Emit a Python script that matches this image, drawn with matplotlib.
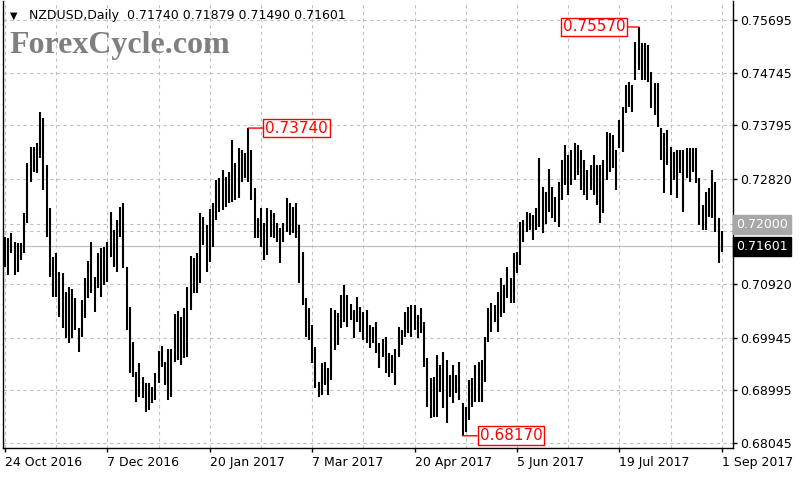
import matplotlib
matplotlib.use('Agg')
import matplotlib.pyplot as plt

symbol = 'NZDUSD,Daily'
last_ohlc = [0.71740, 0.71879, 0.71490, 0.71601]  # open, high, low, close of the last bar
level_line = 0.72000

date_labels = ['24 Oct 2016', '7 Dec 2016', '20 Jan 2017', '7 Mar 2017',
               '20 Apr 2017', '5 Jun 2017', '19 Jul 2017', '1 Sep 2017']
price_ticks = [0.68045, 0.68995, 0.69945, 0.70920, 0.71870,
               0.72820, 0.73795, 0.74745, 0.75695]
hidden_tick = 0.71870  # its label sits under the 0.72000 / 0.71601 boxes

# daily highs / lows (one value per bar)
highs = [
    0.7177, 0.7175, 0.7184, 0.7168, 0.7166, 0.7166, 0.7220, 0.7311, 0.7340, 0.7340,
    0.7347, 0.7403, 0.7392, 0.7307, 0.7229, 0.7141, 0.7148, 0.7114, 0.7112, 0.7077,
    0.7086, 0.7083, 0.7066, 0.7012, 0.7063, 0.7103, 0.7133, 0.7168, 0.7104, 0.7148,
    0.7157, 0.7159, 0.7168, 0.7222, 0.7190, 0.7208, 0.7231, 0.7238, 0.7122, 0.7050,
    0.6987, 0.6932, 0.6949, 0.6923, 0.6913, 0.6913, 0.6905, 0.6931, 0.6971, 0.6980,
    0.6951, 0.6974, 0.6974, 0.7038, 0.7043, 0.7032, 0.7048, 0.7086, 0.7142, 0.7139,
    0.7148, 0.7220, 0.7213, 0.7199, 0.7227, 0.7238, 0.7280, 0.7284, 0.7298, 0.7285,
    0.7295, 0.7352, 0.7311, 0.7338, 0.7334, 0.7329, 0.7374, 0.7334, 0.7266, 0.7211,
    0.7229, 0.7202, 0.7229, 0.7226, 0.7220, 0.7202, 0.7193, 0.7202, 0.7247, 0.7238,
    0.7231, 0.7238, 0.7199, 0.7150, 0.7066, 0.7048, 0.7018, 0.6978, 0.6914, 0.6949,
    0.6951, 0.6940, 0.7048, 0.7045, 0.7039, 0.7072, 0.7090, 0.7072, 0.7056, 0.7045,
    0.7068, 0.7050, 0.7041, 0.7045, 0.7018, 0.7014, 0.7023, 0.6985, 0.6992, 0.6996,
    0.6967, 0.6963, 0.6974, 0.7014, 0.7009, 0.7041, 0.7050, 0.7054, 0.7054, 0.7036,
    0.7048, 0.7023, 0.6958, 0.6922, 0.6923, 0.6963, 0.6945, 0.6969, 0.6954, 0.6927,
    0.6945, 0.6927, 0.6951, 0.6876, 0.6869, 0.6918, 0.6922, 0.6945, 0.6951, 0.6954,
    0.6996, 0.7048, 0.7057, 0.7054, 0.7077, 0.7103, 0.7090, 0.7122, 0.7103, 0.7148,
    0.7150, 0.7204, 0.7208, 0.7222, 0.7220, 0.7217, 0.7229, 0.7320, 0.7267, 0.7258,
    0.7300, 0.7267, 0.7249, 0.7276, 0.7316, 0.7343, 0.7325, 0.7334, 0.7347, 0.7343,
    0.7334, 0.7316, 0.7298, 0.7307, 0.7325, 0.7307, 0.7307, 0.7316, 0.7367, 0.7365,
    0.7361, 0.7334, 0.7389, 0.7412, 0.7452, 0.7457, 0.7452, 0.7530, 0.7557, 0.7528,
    0.7528, 0.7524, 0.7476, 0.7456, 0.7456, 0.7374, 0.7365, 0.7371, 0.7340, 0.7331,
    0.7334, 0.7334, 0.7334, 0.7338, 0.7338, 0.7338, 0.7338, 0.7284, 0.7235, 0.7258,
    0.7266, 0.7298, 0.7276, 0.7211, 0.71879,
]
lows = [
    0.7122, 0.7108, 0.7148, 0.7108, 0.7114, 0.7135, 0.7148, 0.7202, 0.7276, 0.7295,
    0.7293, 0.7320, 0.7262, 0.7177, 0.7104, 0.7068, 0.7068, 0.7032, 0.7012, 0.6994,
    0.6985, 0.6994, 0.7009, 0.6969, 0.6996, 0.7030, 0.7066, 0.7076, 0.7041, 0.7085,
    0.7068, 0.7090, 0.7095, 0.7141, 0.7122, 0.7114, 0.7177, 0.7121, 0.7009, 0.6931,
    0.6923, 0.6878, 0.6887, 0.6885, 0.6860, 0.6864, 0.6876, 0.6882, 0.6913, 0.6942,
    0.6909, 0.6882, 0.6887, 0.6951, 0.6954, 0.6945, 0.6958, 0.6960, 0.7045, 0.7076,
    0.7076, 0.7094, 0.7162, 0.7114, 0.7132, 0.7159, 0.7208, 0.7222, 0.7226, 0.7231,
    0.7238, 0.7240, 0.7244, 0.7247, 0.7276, 0.7284, 0.7276, 0.7244, 0.7175, 0.7175,
    0.7159, 0.7135, 0.7144, 0.7177, 0.7175, 0.7168, 0.7130, 0.7168, 0.7186, 0.7180,
    0.7184, 0.7175, 0.7094, 0.7054, 0.6996, 0.6990, 0.6949, 0.6904, 0.6887, 0.6891,
    0.6909, 0.6891, 0.6918, 0.6972, 0.6981, 0.7012, 0.7023, 0.7014, 0.7027, 0.6994,
    0.7023, 0.7005, 0.6990, 0.6985, 0.6976, 0.6985, 0.6967, 0.6940, 0.6960, 0.6931,
    0.6923, 0.6931, 0.6909, 0.6960, 0.6981, 0.6996, 0.7003, 0.6996, 0.7009, 0.6994,
    0.7003, 0.6942, 0.6869, 0.6849, 0.6851, 0.6851, 0.6896, 0.6867, 0.6840, 0.6887,
    0.6876, 0.6895, 0.6882, 0.6817, 0.6824, 0.6846, 0.6869, 0.6878, 0.6878, 0.6878,
    0.6914, 0.6987, 0.7005, 0.7023, 0.7005, 0.7032, 0.7039, 0.7066, 0.7057, 0.7057,
    0.7112, 0.7126, 0.7168, 0.7186, 0.7190, 0.7171, 0.7190, 0.7195, 0.7184, 0.7200,
    0.7222, 0.7211, 0.7204, 0.7195, 0.7244, 0.7271, 0.7253, 0.7271, 0.7280, 0.7289,
    0.7262, 0.7253, 0.7244, 0.7262, 0.7253, 0.7235, 0.7202, 0.7220, 0.7280, 0.7295,
    0.7302, 0.7262, 0.7338, 0.7331, 0.7401, 0.7412, 0.7403, 0.7461, 0.7479, 0.7461,
    0.7461, 0.7457, 0.7410, 0.7398, 0.7376, 0.7316, 0.7257, 0.7307, 0.7253, 0.7280,
    0.7247, 0.7293, 0.7222, 0.7284, 0.7276, 0.7295, 0.7275, 0.7199, 0.7190, 0.7190,
    0.7213, 0.7211, 0.7186, 0.7130, 0.71490,
]

# swing points marked with red boxes: value, window of bars to search, side of the box
swings = [(0.73740, 60, 100, 'right'), (0.75570, 180, 225, 'left'), (0.68170, 120, 160, 'right')]

n = len(highs)
x = list(range(n))
label_step = 32

fig = plt.figure(figsize=(8, 4.8), dpi=100)
fig.patch.set_facecolor('white')
ax = fig.add_axes([3 / 800, 1 - 448 / 480, 730 / 800, 447 / 480])
ax.set_facecolor('white')
ax.set_xlim(-0.6, 227.5)
ax.set_ylim(0.67949, 0.76040)

grid_kw = dict(color='#c0c0c0', linewidth=0.8, linestyle=(0, (3, 3)), zorder=1)
for p in price_ticks:
    ax.axhline(p, **grid_kw)
for gx in range(0, n + 1, label_step // 2):
    ax.axvline(gx, **grid_kw)
ax.axhline(level_line, **grid_kw)
ax.axhline(last_ohlc[3], color='#c0c0c0', linewidth=0.9, zorder=1)

ax.vlines(x, lows, highs, colors='black', linewidth=1.5, zorder=3)

# swing labels
for val, a, b, side in swings:
    if val in highs[a:b]:
        idx = a + highs[a:b].index(val)
    else:
        idx = a + lows[a:b].index(val)
    if side == 'left':
        off, ha = -13, 'right'
    else:
        off, ha = 17, 'left'
    ax.annotate('%.5f' % val, xy=(idx, val), xytext=(off, 0), textcoords='offset pixels',
                ha=ha, va='center', color='#ff0000', fontsize=11,
                bbox=dict(boxstyle='square,pad=0.12', fc='white', ec='#ff0000', lw=1.0),
                arrowprops=dict(arrowstyle='-', color='#ff0000', lw=1.0,
                                shrinkA=0, shrinkB=0, relpos=(0 if ha == 'left' else 1, 0.5)),
                zorder=5)

# axes / ticks
for s in ax.spines.values():
    s.set_color('black')
    s.set_linewidth(1.0)
ax.spines['top'].set_visible(False)
ax.yaxis.tick_right()
ax.set_yticks(price_ticks)
ax.set_yticklabels(['' if p == hidden_tick else '%.5f' % p for p in price_ticks])
ax.set_xticks(list(range(0, n, label_step)))
ax.set_xticklabels(date_labels, ha='left')
ax.tick_params(axis='both', direction='out', length=3, width=1, colors='black',
               labelsize=9, pad=2)
ax.tick_params(axis='x', pad=3)
for t in ax.get_xticklabels():
    t.set_horizontalalignment('left')

# right side price boxes
tr = ax.get_yaxis_transform()
ax.text(1.004, level_line, '%.5f' % level_line, transform=tr, ha='left', va='center',
        fontsize=9, color='white', zorder=6, clip_on=False,
        bbox=dict(boxstyle='square,pad=0.25', fc='#a8a8a8', ec='#a8a8a8'))
ax.text(1.004, last_ohlc[3], '%.5f' % last_ohlc[3], transform=tr, ha='left', va='center',
        fontsize=9, color='white', zorder=6, clip_on=False,
        bbox=dict(boxstyle='square,pad=0.25', fc='black', ec='black'))

# header and watermark
fig.text(10 / 800, 1 - 16 / 480, '\u25bc', fontsize=7, color='black', va='center')
fig.text(29 / 800, 1 - 16 / 480,
         symbol + '  ' + ' '.join('%.5f' % v for v in last_ohlc),
         fontsize=9, color='black', va='center')
fig.text(9 / 800, 1 - 45 / 480, 'ForexCycle.com', family='Liberation Serif',
         fontweight='bold', fontsize=23, color='#7f7f7f', va='center')

fig.savefig('out.png', dpi=100, facecolor='white')
